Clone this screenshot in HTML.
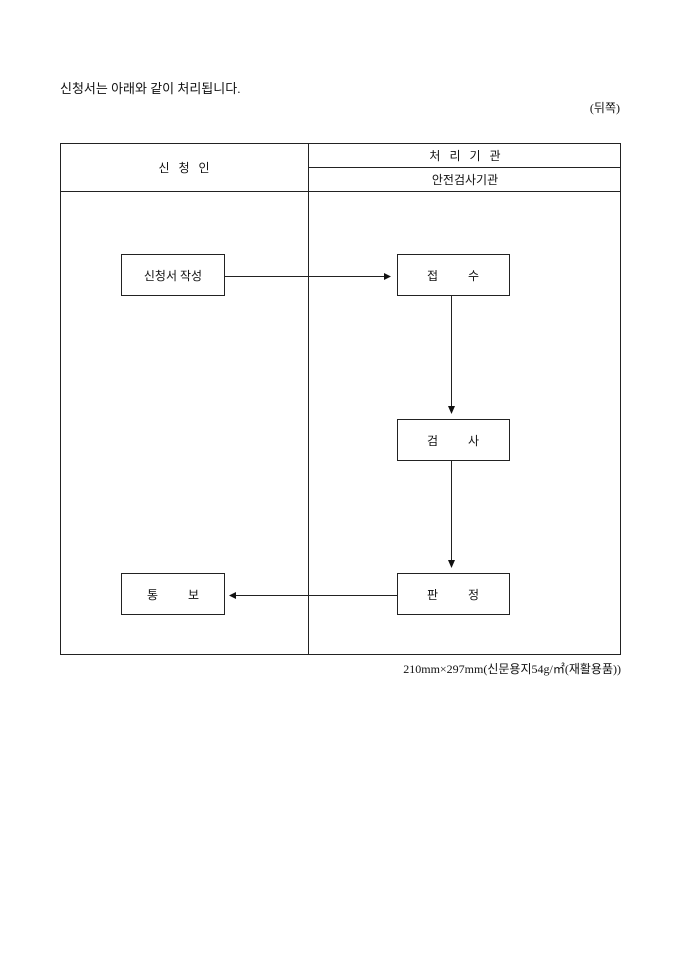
<!DOCTYPE html>
<html><head><meta charset="utf-8"><style>
html,body{margin:0;padding:0;background:#fff;width:680px;height:962px;overflow:hidden}
svg text{font-family:"Liberation Serif","Noto Sans CJK KR",sans-serif;fill:#111;white-space:pre}
</style></head><body>
<svg width="680" height="962" xmlns="http://www.w3.org/2000/svg" xml:space="preserve">
<text x="60" y="93" font-size="13">신청서는 아래와 같이 처리됩니다.</text>
<text x="620" y="112" font-size="12" text-anchor="end">(뒤쪽)</text>
<g stroke="#222" stroke-width="1" fill="none">
<rect x="60.5" y="143.5" width="560" height="511"/>
<line x1="308.5" y1="143" x2="308.5" y2="655"/>
<line x1="308" y1="167.5" x2="621" y2="167.5"/>
<line x1="60" y1="191.5" x2="621" y2="191.5"/>
<rect x="121.5" y="254.5" width="103" height="41"/>
<rect x="397.5" y="254.5" width="112" height="41"/>
<rect x="397.5" y="419.5" width="112" height="41"/>
<rect x="397.5" y="573.5" width="112" height="41"/>
<rect x="121.5" y="573.5" width="103" height="41"/>
<line x1="224" y1="276.5" x2="386" y2="276.5"/>
<line x1="451.5" y1="296" x2="451.5" y2="408"/>
<line x1="451.5" y1="461" x2="451.5" y2="562"/>
<line x1="397" y1="595.5" x2="235" y2="595.5"/>
</g>
<g fill="#111">
<polygon points="391,276.5 384,273 384,280"/>
<polygon points="451.5,414 448,406 455,406"/>
<polygon points="451.5,568 448,560 455,560"/>
<polygon points="229,595.5 236,592 236,599"/>
</g>
<g font-size="12" text-anchor="middle">
<text x="184" y="172">신   청   인</text>
<text x="465" y="160">처   리   기   관</text>
<text x="465" y="184">안전검사기관</text>
<text x="173" y="280">신청서 작성</text>
<text x="453" y="280">접          수</text>
<text x="453" y="445">검          사</text>
<text x="453" y="599">판          정</text>
<text x="173" y="599">통          보</text>
</g>
<text x="621" y="673" font-size="12" text-anchor="end">210mm×297mm(신문용지54g/㎡(재활용품))</text>
</svg>
</body></html>
